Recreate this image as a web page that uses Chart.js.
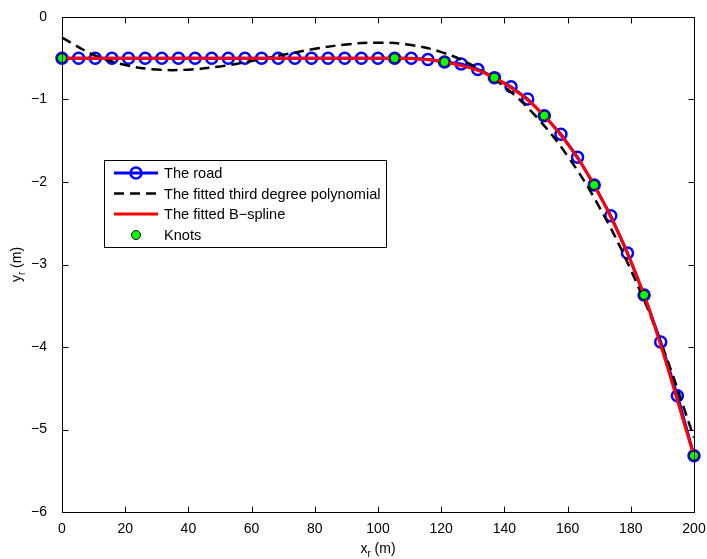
<!DOCTYPE html>
<html>
<head>
<meta charset="utf-8">
<script src="https://cdn.jsdelivr.net/npm/chart.js@4.4.0/dist/chart.umd.min.js"></script>
<style>
  html, body { margin: 0; padding: 0; background: #fff; }
  #wrap { width: 707px; height: 559px; }
</style>
</head>
<body>
<div id="wrap"><canvas id="roadChart"></canvas></div>
<script>
// road samples (m)
var roadX = [0, 5.26, 10.53, 15.79, 21.05, 26.32, 31.58, 36.84, 42.11, 47.37,
             52.63, 57.89, 63.16, 68.42, 73.68, 78.95, 84.21, 89.47, 94.74, 100.00,
             105.26, 110.53, 115.79, 121.05, 126.32, 131.58, 136.84, 142.11, 147.37, 152.63,
             157.89, 163.16, 168.42, 173.68, 178.95, 184.21, 189.47, 194.74, 200];
var roadY = [-0.5, -0.5, -0.5, -0.5, -0.5, -0.5, -0.5, -0.5, -0.5, -0.5,
             -0.5, -0.5, -0.5, -0.5, -0.5, -0.5, -0.5, -0.5, -0.5, -0.5,
             -0.5, -0.5, -0.515, -0.545, -0.57, -0.635, -0.735, -0.845, -0.995, -1.196,
             -1.42, -1.70, -2.036, -2.41, -2.86, -3.37, -3.94, -4.59, -5.317];

// third degree polynomial
var polyX = [0, 10, 20, 30, 40, 50, 60, 70, 80, 90, 100,
             110, 120, 130, 140, 150, 160, 170, 180, 190, 200];
var polyY = [-0.25, -0.458, -0.582, -0.637, -0.638, -0.599, -0.534, -0.458, -0.386, -0.332, -0.311,
             -0.337, -0.425, -0.589, -0.844, -1.205, -1.686, -2.301, -3.065, -3.994, -5.10];

// knots (the B-spline goes through them)
var knotX = [0, 105.26, 121.05, 136.84, 152.63, 168.42, 184.21, 200];
var knotY = [-0.5, -0.5, -0.545, -0.735, -1.196, -2.036, -3.37, -5.317];

var xTicks = [0, 20, 40, 60, 80, 100, 120, 140, 160, 180, 200];
var yTicks = [-6, -5, -4, -3, -2, -1, 0];

var FONT = "'Liberation Sans', Arial, Helvetica, sans-serif";

function pts(xs, ys) {
    return xs.map(function (x, i) { return { x: x, y: ys[i] }; });
}

// matlab style box with inward ticks + axis titles
var framePlugin = {
    id: 'frame',
    afterDraw: function (chart) {
        var ctx = chart.ctx, a = chart.chartArea;
        var xs = chart.scales.x, ys = chart.scales.y;
        ctx.save();
        ctx.strokeStyle = '#000';
        ctx.lineWidth = 1;
        var L = Math.round(a.left) + 0.5, R = Math.round(a.right) + 0.5;
        var T = Math.round(a.top) + 0.5, B = Math.round(a.bottom) + 0.5;
        ctx.strokeRect(L, T, R - L, B - T);
        ctx.beginPath();
        xTicks.forEach(function (v) {
            var px = Math.round(xs.getPixelForValue(v)) + 0.5;
            ctx.moveTo(px, B); ctx.lineTo(px, B - 6);
            ctx.moveTo(px, T); ctx.lineTo(px, T + 6);
        });
        yTicks.forEach(function (v) {
            var py = Math.round(ys.getPixelForValue(v)) + 0.5;
            ctx.moveTo(L, py); ctx.lineTo(L + 6, py);
            ctx.moveTo(R, py); ctx.lineTo(R - 6, py);
        });
        ctx.stroke();

        // axis titles with subscript r
        function subLabel(main, sub, rest, cx, cy) {
            ctx.font = '14px ' + FONT;
            var w1 = ctx.measureText(main).width;
            var w3 = ctx.measureText(rest).width;
            ctx.font = '10px ' + FONT;
            var w2 = ctx.measureText(sub).width;
            var x0 = cx - (w1 + w2 + w3) / 2;
            ctx.fillStyle = '#000';
            ctx.textBaseline = 'alphabetic';
            ctx.textAlign = 'left';
            ctx.font = '14px ' + FONT;
            ctx.fillText(main, x0, cy);
            ctx.font = '10px ' + FONT;
            ctx.fillText(sub, x0 + w1, cy + 4);
            ctx.font = '14px ' + FONT;
            ctx.fillText(rest, x0 + w1 + w2, cy);
        }
        subLabel('x', 'r', ' (m)', (a.left + a.right) / 2, 553);
        ctx.save();
        ctx.translate(21, (a.top + a.bottom) / 2);
        ctx.rotate(-Math.PI / 2);
        subLabel('y', 'r', ' (m)', 0, 0);
        ctx.restore();

        // legend box
        var lx = 104.5, ly = 160.5, lw = 282, lh = 87;
        ctx.fillStyle = '#fff';
        ctx.fillRect(lx, ly, lw, lh);
        ctx.strokeStyle = '#000';
        ctx.strokeRect(lx, ly, lw, lh);
        var rows = [173, 193.5, 214, 235];
        ctx.font = '14.6px ' + FONT;
        ctx.textBaseline = 'middle';
        chart.data.datasets.forEach(function (ds, i) {
            var y = rows[i];
            ctx.save();
            if (ds.showLine) {
                ctx.strokeStyle = ds.borderColor;
                ctx.lineWidth = ds.borderWidth;
                ctx.setLineDash(ds.borderDash || []);
                ctx.beginPath();
                ctx.moveTo(114, y); ctx.lineTo(158, y);
                ctx.stroke();
            }
            ctx.setLineDash([]);
            if (ds.pointRadius > 0) {
                ctx.beginPath();
                ctx.arc(136, y, ds.pointRadius, 0, Math.PI * 2);
                if (ds.pointBackgroundColor && ds.pointBackgroundColor !== 'rgba(0,0,0,0)') {
                    ctx.fillStyle = ds.pointBackgroundColor;
                    ctx.fill();
                }
                ctx.strokeStyle = ds.pointBorderColor;
                ctx.lineWidth = ds.pointBorderWidth;
                ctx.stroke();
            }
            ctx.restore();
            ctx.fillStyle = '#000';
            ctx.textAlign = 'left';
            ctx.fillText(ds.label, 164, y + 1);
        });
        ctx.restore();
    }
};

var ctx = document.getElementById('roadChart').getContext('2d');
var roadChart = new Chart(ctx, {
    type: 'scatter',
    data: {
        datasets: [
            {
                label: 'The road',
                data: pts(roadX, roadY),
                showLine: true,
                borderColor: '#0000ff',
                borderWidth: 3,
                pointRadius: 5.5,
                pointBorderWidth: 2.5,
                pointBorderColor: '#0000ff',
                pointBackgroundColor: 'rgba(0,0,0,0)',
                clip: false,
                order: 3
            },
            {
                label: 'The fitted third degree polynomial',
                data: pts(polyX, polyY),
                showLine: true,
                borderColor: '#000000',
                borderWidth: 2.5,
                borderDash: [10, 6],
                tension: 0.4,
                pointRadius: 0,
                clip: false,
                order: 2
            },
            {
                label: 'The fitted B\u2212spline',
                data: pts(knotX, knotY),
                showLine: true,
                borderColor: '#ff0000',
                borderWidth: 3,
                cubicInterpolationMode: 'monotone',
                pointRadius: 0,
                clip: false,
                order: 1
            },
            {
                label: 'Knots',
                data: pts(knotX, knotY),
                showLine: false,
                pointRadius: 4.5,
                pointBorderWidth: 1,
                pointBorderColor: '#000000',
                pointBackgroundColor: '#00ff00',
                clip: false,
                order: 0
            }
        ]
    },
    options: {
        responsive: true,
        maintainAspectRatio: false,
        animation: false,
        layout: { padding: { top: 17, right: 13, left: 0, bottom: 0 } },
        plugins: {
            legend: { display: false },
            tooltip: { enabled: false }
        },
        scales: {
            x: {
                type: 'linear',
                min: 0, max: 200,
                afterBuildTicks: function (s) { s.ticks = xTicks.map(function (v) { return { value: v }; }); },
                afterFit: function (s) { s.height = 47; s.paddingLeft = 0; s.paddingRight = 0; },
                grid: { display: false },
                border: { display: false },
                ticks: {
                    color: '#000',
                    font: { family: FONT, size: 14 },
                    padding: 1,
                    maxRotation: 0,
                    autoSkip: false
                }
            },
            y: {
                type: 'linear',
                min: -6, max: 0,
                afterBuildTicks: function (s) { s.ticks = yTicks.map(function (v) { return { value: v }; }); },
                afterFit: function (s) { s.width = 62; s.paddingTop = 0; s.paddingBottom = 0; },
                grid: { display: false },
                border: { display: false },
                ticks: {
                    color: '#000',
                    font: { family: FONT, size: 14 },
                    padding: 7,
                    autoSkip: false,
                    callback: function (v) { return v < 0 ? '\u2212' + Math.abs(v) : String(v); }
                }
            }
        }
    },
    plugins: [framePlugin]
});
</script>
</body>
</html>
